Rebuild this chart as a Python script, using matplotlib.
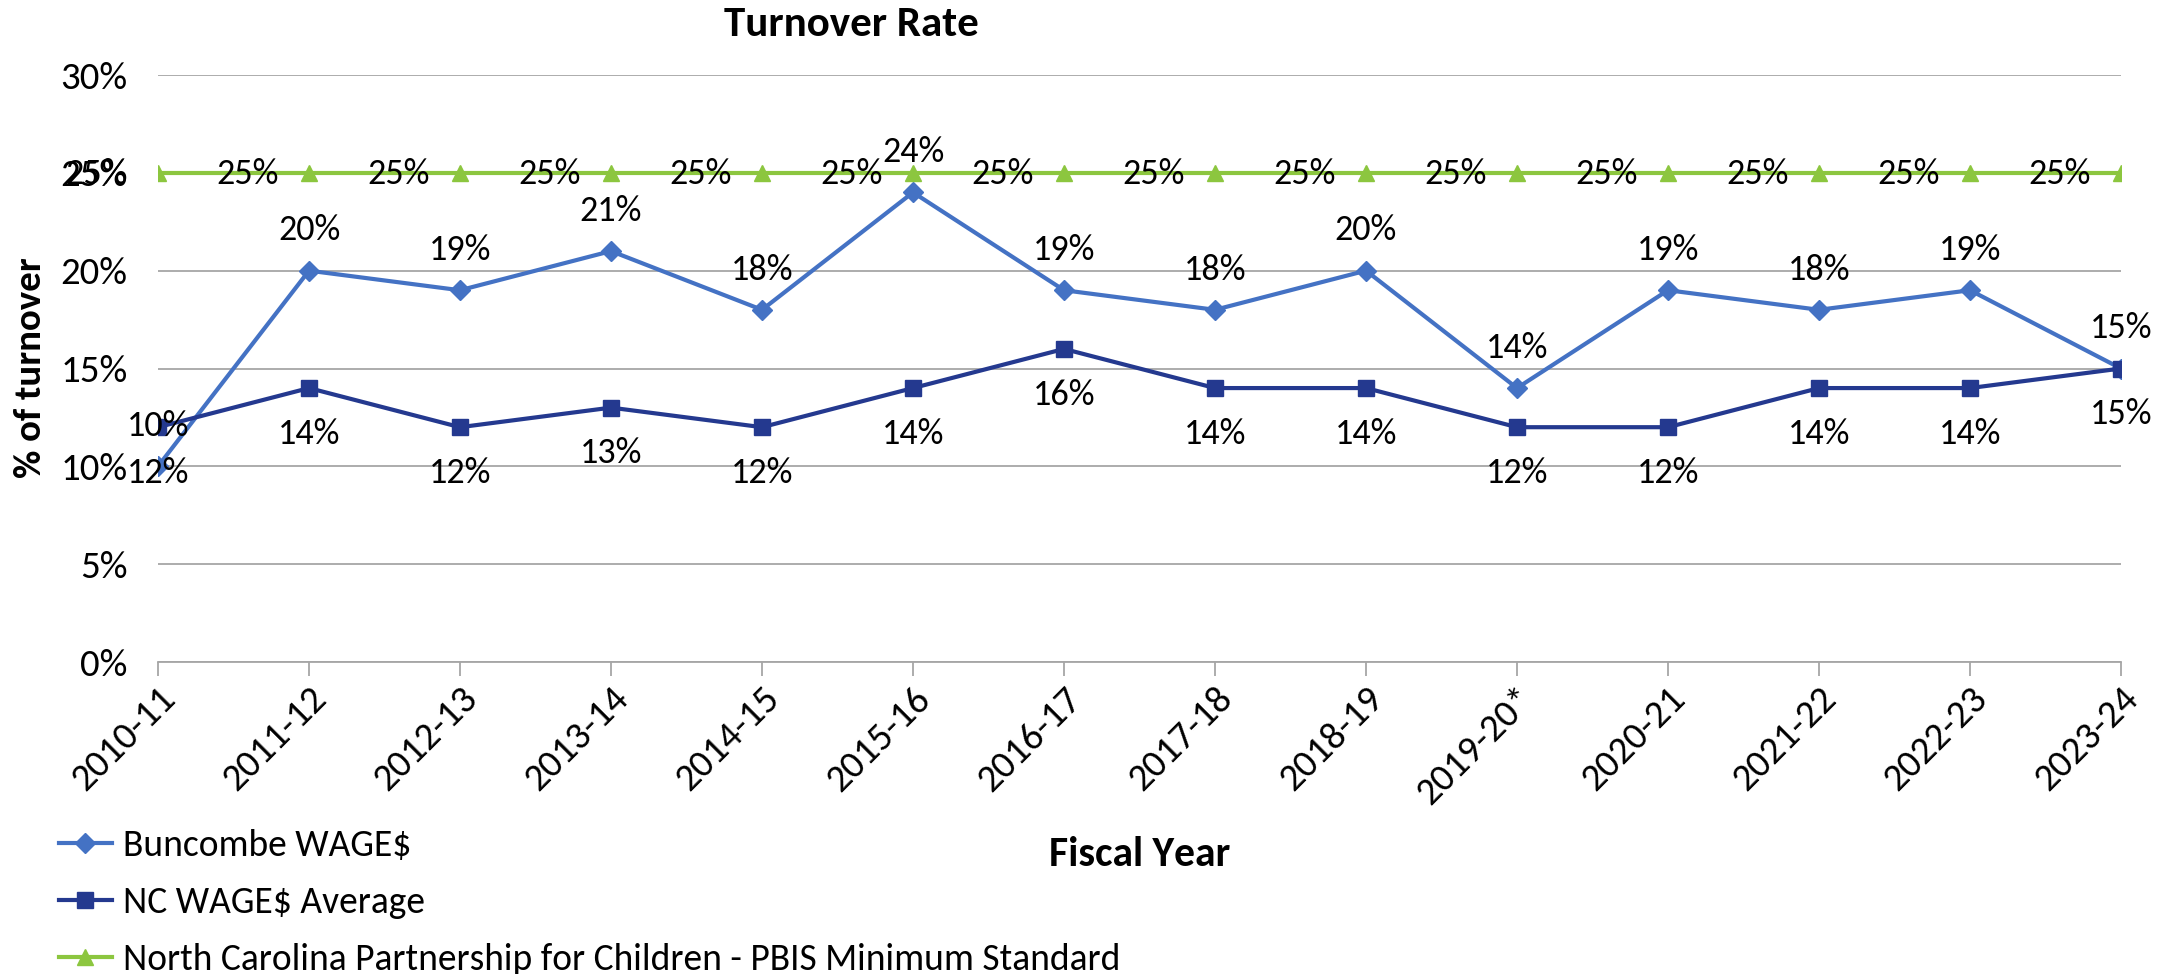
import matplotlib
matplotlib.use("Agg")
import matplotlib.pyplot as plt
from matplotlib.ticker import FuncFormatter

plt.rcParams['font.family'] = ['Carlito', 'Lato', 'DejaVu Sans']

years = ['2010-11', '2011-12', '2012-13', '2013-14', '2014-15', '2015-16', '2016-17',
         '2017-18', '2018-19', '2019-20*', '2020-21', '2021-22', '2022-23', '2023-24']
buncombe = [10, 20, 19, 21, 18, 24, 19, 18, 20, 14, 19, 18, 19, 15]
nc_avg = [12, 14, 12, 13, 12, 14, 16, 14, 14, 12, 12, 14, 14, 15]
pbis = [25] * 14

c_bun = '#4472C4'
c_nc = '#24398F'
c_pbis = '#8CC63F'
fs = 26

fig = plt.figure(figsize=(21.78, 9.74), dpi=100)
ax = fig.add_axes([158 / 2178, 1 - 662 / 974, (2121 - 158) / 2178, (662 - 75) / 974])

x = list(range(len(years)))
ax.plot(x, buncombe, color=c_bun, lw=3, marker='D', ms=10, label='Buncombe WAGE$', zorder=3)
ax.plot(x, nc_avg, color=c_nc, lw=3, marker='s', ms=12, label='NC WAGE$ Average', zorder=4)
ax.plot(x, pbis, color=c_pbis, lw=3, marker='^', ms=12,
        label='North Carolina Partnership for Children - PBIS Minimum Standard', zorder=3)

# data labels: Buncombe above, NC below, PBIS to the left
for i in x:
    ax.annotate(f'{buncombe[i]}%', (i, buncombe[i]), xytext=(0, 29), textcoords='offset points',
                ha='center', va='center', fontsize=fs, zorder=6)
    ax.annotate(f'{nc_avg[i]}%', (i, nc_avg[i]), xytext=(0, -33), textcoords='offset points',
                ha='center', va='center', fontsize=fs, zorder=6)
    ax.annotate(f'{pbis[i]}%', (i, pbis[i]), xytext=(-44, -1), textcoords='offset points',
                ha='center', va='center', fontsize=fs, zorder=6)

ax.set_xlim(0, len(years) - 1)
ax.set_ylim(0, 30)
ax.set_yticks(range(0, 31, 5))
ax.yaxis.set_major_formatter(FuncFormatter(lambda v, p: f'{v:.0f}%'))
ax.grid(axis='y', color='#A6A6A6', lw=1.3)
ax.set_axisbelow(True)
for s in ['top', 'right', 'left']:
    ax.spines[s].set_visible(False)
ax.spines['bottom'].set_color('#A6A6A6')
ax.spines['bottom'].set_linewidth(1.3)
ax.spines['bottom'].set_zorder(1)

ax.set_xticks(x)
ax.set_xticklabels(years, rotation=45, ha='right', rotation_mode='anchor', fontsize=28)
ax.tick_params(axis='x', length=10, width=1.3, color='#A6A6A6', pad=4)
ax.tick_params(axis='y', length=0, pad=22, labelsize=28)

fig.text(31 / 2178, 1 - 368 / 974, '% of turnover', fontsize=28, fontweight='bold',
         rotation=90, ha='center', va='center')
fig.text(851 / 2178, 1 - 25 / 974, 'Turnover Rate', fontsize=31, fontweight='bold',
         ha='center', va='center')
fig.text(1140 / 2178, 1 - 854 / 974, 'Fiscal Year', fontsize=30, fontweight='bold',
         ha='center', va='center')

fig.legend(loc='upper left', bbox_to_anchor=(59 / 2178, 1 - 829 / 974), frameon=False,
           fontsize=27, handlelength=1.4, handletextpad=0.3, labelspacing=0.64,
           borderaxespad=0, borderpad=0)

fig.savefig('out.png', dpi=100)
